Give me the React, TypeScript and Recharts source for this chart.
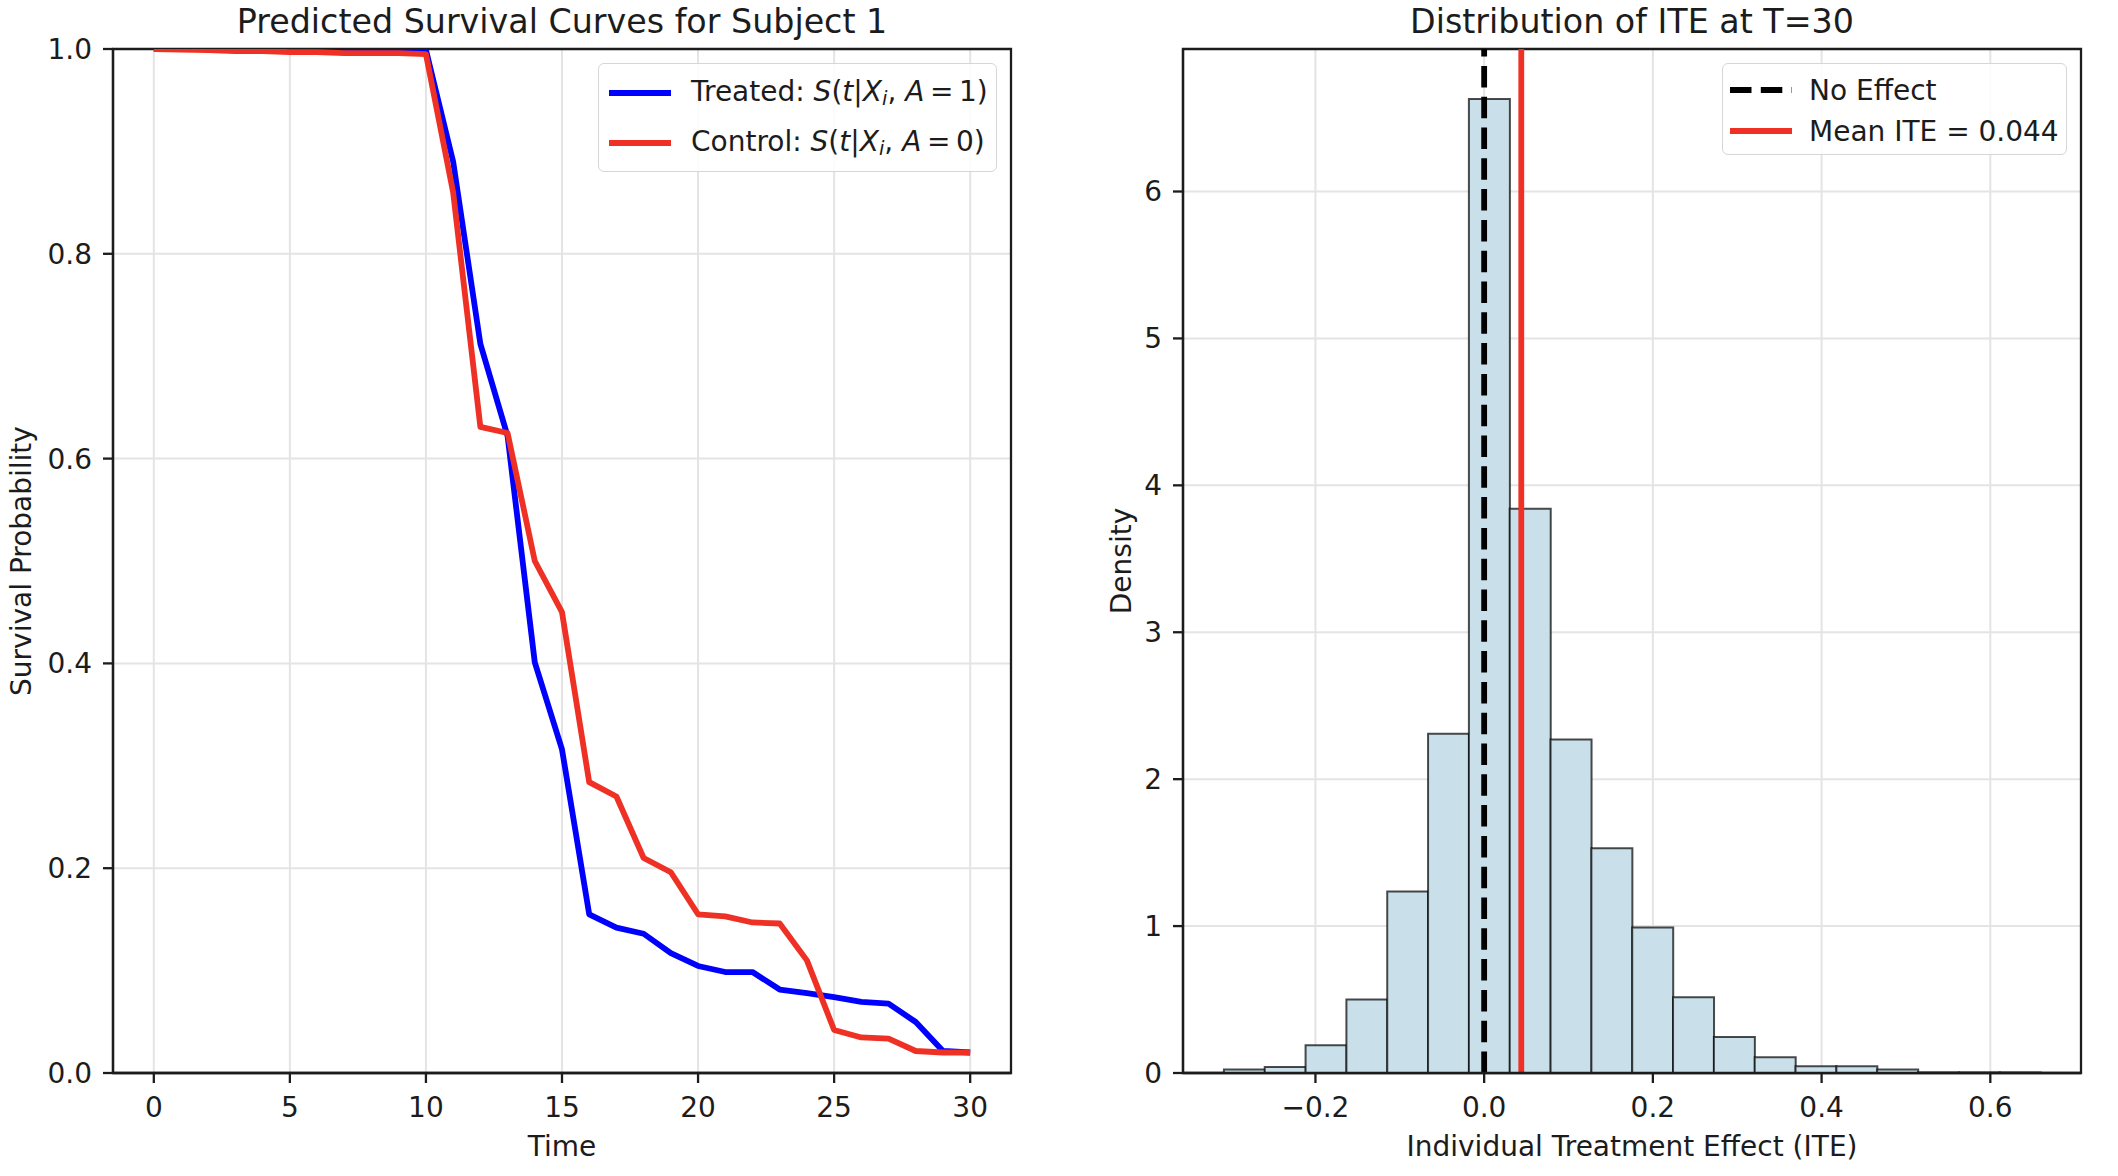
import React from 'react';
import {
  LineChart,
  Line,
  ComposedChart,
  Bar,
  XAxis,
  YAxis,
  CartesianGrid,
  ReferenceLine,
  ReferenceArea,
} from 'recharts';

// survival curves for subject 1
const timePoints = [0, 1, 2, 3, 4, 5, 6, 7, 8, 9, 10, 11, 12, 13, 14, 15, 16, 17, 18, 19, 20, 21, 22, 23, 24, 25, 26, 27, 28, 29, 30];
const treatedSurvival = [
  1.0, 1.0, 1.0, 1.0, 1.0, 1.0, 1.0, 1.0, 1.0, 1.0, 0.999,
  0.89, 0.712, 0.622, 0.401, 0.316, 0.155, 0.142, 0.136, 0.117, 0.1045,
  0.0986, 0.0986, 0.0815, 0.078, 0.074, 0.0695, 0.0677, 0.0498, 0.0215, 0.02,
];
const controlSurvival = [
  1.0, 0.9995, 0.999, 0.998, 0.998, 0.997, 0.997, 0.996, 0.996, 0.996, 0.995,
  0.86, 0.631, 0.625, 0.5, 0.45, 0.284, 0.27, 0.21, 0.196, 0.155,
  0.153, 0.147, 0.146, 0.11, 0.042, 0.0347, 0.0335, 0.0215, 0.02, 0.02,
];
const timeTicks = [0, 5, 10, 15, 20, 25, 30];
const survivalTicks = [0, 0.2, 0.4, 0.6, 0.8, 1.0];

// ITE histogram (density=True, 20 bins)
const iteBinEdges = [
  -0.3085, -0.2601, -0.2117, -0.1633, -0.1149, -0.0665, -0.0181, 0.0303, 0.0787, 0.1271,
  0.1755, 0.2239, 0.2723, 0.3207, 0.3691, 0.4175, 0.4659, 0.5143, 0.5627, 0.6111, 0.6595,
];
const iteDensity = [
  0.024, 0.041, 0.189, 0.5, 1.236, 2.31, 6.63, 3.84, 2.27, 1.53,
  0.99, 0.516, 0.245, 0.107, 0.046, 0.046, 0.024, 0.004, 0.004, 0.004,
];
const iteTicks = [-0.2, 0, 0.2, 0.4, 0.6];
const densityTicks = [0, 1, 2, 3, 4, 5, 6];
const meanIte = 0.044;

const survivalData = timePoints.map((t, i) => ({
  time: t,
  treated: treatedSurvival[i],
  control: controlSurvival[i],
}));

const histData = iteDensity.map((d, i) => ({
  center: (iteBinEdges[i] + iteBinEdges[i + 1]) / 2,
  density: d,
}));

const FONT = '"DejaVu Sans", sans-serif';
const INK = '#1c1c1c';
const BLUE = '#0000ff';
const RED = '#ee3124';
const LW = 5.8;
const tickStyle = { fill: INK, fontSize: 28, fontFamily: FONT };
const tickLine = { stroke: INK, strokeWidth: 2.3 };
const axisLine = { stroke: INK, strokeWidth: 2.3 };
const labelStyle = { fill: INK, fontSize: 28, fontFamily: FONT };

const fmt1 = (v: number) => (v < 0 ? '\u2212' + Math.abs(v).toFixed(1) : v.toFixed(1));

const MathLabel = ({ name, a }: { name: string; a: number }) => (
  <span>
    {name}: <i>S</i>(<i>t</i>|<i>X</i>
    <i style={{ fontSize: '0.7em', verticalAlign: '-0.22em' }}>i</i>, <i>A</i>&thinsp;=&thinsp;{a})
  </span>
);

const Swatch = ({ color, dashed }: { color: string; dashed?: boolean }) => (
  <svg width={62} height={10} style={{ display: 'block' }}>
    <line
      x1={0}
      y1={5}
      x2={62}
      y2={5}
      stroke={color}
      strokeWidth={LW}
      strokeDasharray={dashed ? '21.5 9.3' : undefined}
    />
  </svg>
);

const legendBox: React.CSSProperties = {
  position: 'absolute',
  border: '1.5px solid #d6d6d6',
  borderRadius: 6,
  background: 'rgba(255,255,255,0.85)',
  boxSizing: 'border-box',
  fontFamily: FONT,
  fontSize: 28,
  color: INK,
};

const Row = ({ top, left, textLeft, children, swatch }: any) => (
  <div style={{ position: 'absolute', top: top - 20, height: 40, left, display: 'flex', alignItems: 'center', whiteSpace: 'nowrap' }}>
    {swatch}
    <div style={{ marginLeft: textLeft - left - 62 }}>{children}</div>
  </div>
);

const Title = ({ cx, text }: { cx: number; text: string }) => (
  <div
    style={{
      position: 'absolute',
      left: cx - 500,
      width: 1000,
      top: 5,
      textAlign: 'center',
      fontFamily: FONT,
      fontSize: 33.3,
      lineHeight: '34px',
      color: INK,
      whiteSpace: 'nowrap',
    }}
  >
    {text}
  </div>
);

const App: React.FC = () => {
  return (
    <div style={{ position: 'absolute', left: 0, top: 0, width: 2118, height: 1176, background: '#fff', overflow: 'hidden' }}>
      <Title cx={562} text="Predicted Survival Curves for Subject 1" />
      <Title cx={1632} text="Distribution of ITE at T=30" />

      <div style={{ position: 'absolute', left: 0, top: 0 }}>
        <LineChart width={1059} height={1176} data={survivalData} margin={{ top: 49, right: 48, left: 0, bottom: 0 }}>
          <CartesianGrid stroke="#e4e4e4" strokeWidth={2} />
          <XAxis
            dataKey="time"
            type="number"
            domain={[-1.5, 31.5]}
            allowDataOverflow
            ticks={timeTicks}
            height={103}
            tick={tickStyle}
            tickSize={10}
            tickMargin={14}
            tickLine={tickLine}
            axisLine={axisLine}
            label={{ value: 'Time', position: 'insideBottom', offset: 20, style: labelStyle }}
          />
          <YAxis
            type="number"
            domain={[0, 1]}
            allowDataOverflow
            ticks={survivalTicks}
            width={113}
            tick={tickStyle}
            tickSize={10}
            tickMargin={11}
            tickLine={tickLine}
            axisLine={axisLine}
            tickFormatter={fmt1}
            label={{
              value: 'Survival Probability',
              angle: -90,
              position: 'insideLeft',
              offset: 21,
              style: { ...labelStyle, textAnchor: 'middle' },
            }}
          />
          <Line type="linear" dataKey="treated" stroke={BLUE} strokeWidth={LW} dot={false} strokeLinejoin="round" isAnimationActive={false} />
          <Line type="linear" dataKey="control" stroke={RED} strokeWidth={LW} dot={false} strokeLinejoin="round" isAnimationActive={false} />
          <ReferenceArea x1={-1.5} x2={31.5} y1={0} y2={1} fill="none" stroke={INK} strokeWidth={2.3} />
        </LineChart>
        <div style={{ ...legendBox, left: 598, top: 63, width: 399, height: 109 }}>
          <Row top={29} left={10} textLeft={92} swatch={<Swatch color={BLUE} />}>
            <MathLabel name="Treated" a={1} />
          </Row>
          <Row top={79} left={10} textLeft={92} swatch={<Swatch color={RED} />}>
            <MathLabel name="Control" a={0} />
          </Row>
        </div>
      </div>

      <div style={{ position: 'absolute', left: 1059, top: 0 }}>
        <ComposedChart
          width={1059}
          height={1176}
          data={histData}
          margin={{ top: 49, right: 37, left: 0, bottom: 0 }}
          barCategoryGap={0}
          barGap={0}
        >
          <CartesianGrid stroke="#e4e4e4" strokeWidth={2} />
          <XAxis
            dataKey="center"
            type="number"
            domain={[-0.357, 0.7075]}
            allowDataOverflow
            ticks={iteTicks}
            height={103}
            tick={tickStyle}
            tickSize={10}
            tickMargin={14}
            tickLine={tickLine}
            axisLine={axisLine}
            tickFormatter={fmt1}
            label={{ value: 'Individual Treatment Effect (ITE)', position: 'insideBottom', offset: 20, style: labelStyle }}
          />
          <YAxis
            type="number"
            domain={[0, 6.97]}
            allowDataOverflow
            ticks={densityTicks}
            width={124}
            tick={tickStyle}
            tickSize={10}
            tickMargin={11}
            tickLine={tickLine}
            axisLine={axisLine}
            label={{
              value: 'Density',
              angle: -90,
              position: 'insideLeft',
              offset: 62,
              style: { ...labelStyle, textAnchor: 'middle' },
            }}
          />
          <Bar
            dataKey="density"
            fill="#c9dfe9"
            stroke="rgba(0,0,0,0.7)"
            strokeWidth={2}
            isAnimationActive={false}
          />
          <ReferenceLine x={0} stroke="#000" strokeWidth={LW} strokeDasharray="21.5 9.3" />
          <ReferenceLine x={meanIte} stroke={RED} strokeWidth={LW} />
          <ReferenceArea x1={-0.357} x2={0.7075} y1={0} y2={6.97} fill="none" stroke={INK} strokeWidth={2.3} />
        </ComposedChart>
        <div style={{ ...legendBox, left: 663, top: 63, width: 345, height: 92 }}>
          <Row top={26} left={7} textLeft={86} swatch={<Swatch color="#000" dashed />}>
            No Effect
          </Row>
          <Row top={67} left={7} textLeft={86} swatch={<Swatch color={RED} />}>
            Mean ITE = 0.044
          </Row>
        </div>
      </div>
    </div>
  );
};

export default App;
